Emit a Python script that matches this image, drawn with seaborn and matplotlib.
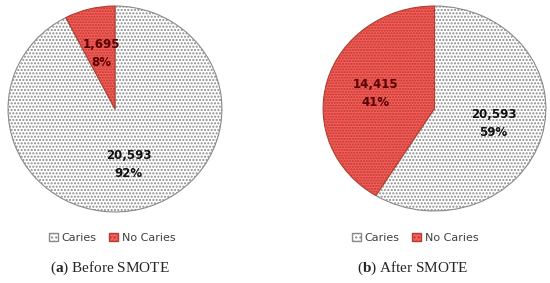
import numpy as np
import matplotlib
matplotlib.use('Agg')
from matplotlib import pyplot as plt
from matplotlib.patches import Patch
import seaborn as sns

sns.set_style('white')
plt.rcParams['font.family'] = ['DejaVu Sans']
plt.rcParams['mathtext.fontset'] = 'custom'
plt.rcParams['mathtext.rm'] = 'Liberation Serif'
plt.rcParams['mathtext.bf'] = 'Liberation Serif:bold'
plt.rcParams['hatch.linewidth'] = 1.0

'''Class balance of the caries data before and after SMOTE.'''

classes = ['Caries', 'No Caries']
before_counts = [20593, 1695]
after_counts = [20593, 14415]
panel_letters = ['a', 'b']
panel_titles = ['Before SMOTE', 'After SMOTE']

face_colors = ['#ffffff', '#fb5b5b']
hatch_colors = ['#8a8a8a', '#b0402f']
text_colors = ['#111111', '#5a0000']

fig = plt.figure(figsize=(5.5, 2.83), dpi=100)

# axes boxes in figure fractions (pies are a bit wider than tall in the source)
boxes = [[7/550, 70/283, 216/550, 208/283],
         [322/550, 71/283, 225/550, 207/283]]
legend_x = [112/550, 415/550]
caption_x = [110/550, 413/550]

for k, counts in enumerate([before_counts, after_counts]):
	ax = fig.add_axes(boxes[k])

	def fmt(p, counts=counts):
		v = int(round(p * sum(counts) / 100.0))
		return '{:,}\n{:.0f}%'.format(v, p)

	wedges, texts, autotexts = ax.pie(counts, startangle=90, counterclock=False,
		colors=face_colors, autopct=fmt, pctdistance=0.55,
		textprops=dict(fontsize=8.5, fontweight='bold', linespacing=1.5),
		wedgeprops=dict(linewidth=0.8))
	for i, w in enumerate(wedges):
		w.set_hatch('.....' if i == 0 else '......')
		w.set_edgecolor(hatch_colors[i])
		autotexts[i].set_color(text_colors[i])
	ax.set_aspect('auto')
	ax.set_xlim(-1.01, 1.01)
	ax.set_ylim(-1.01, 1.01)
	ax.axis('off')

	handles = [Patch(facecolor=face_colors[i], edgecolor=hatch_colors[i], hatch='....',
		label=classes[i]) for i in range(2)]
	leg = fig.legend(handles=handles, loc='center', ncol=2, frameon=False,
		bbox_to_anchor=(legend_x[k], 1 - 238/283), fontsize=8,
		handlelength=0.8, handleheight=0.8, columnspacing=1.2, handletextpad=0.3)
	for t in leg.get_texts():
		t.set_color('#404040')

	fig.text(caption_x[k], 1 - 268/283,
		r'($\mathbf{' + panel_letters[k] + r'}$) ' + panel_titles[k],
		ha='center', va='center', fontsize=11, family='Liberation Serif')

plt.savefig('out.png', dpi=100)
